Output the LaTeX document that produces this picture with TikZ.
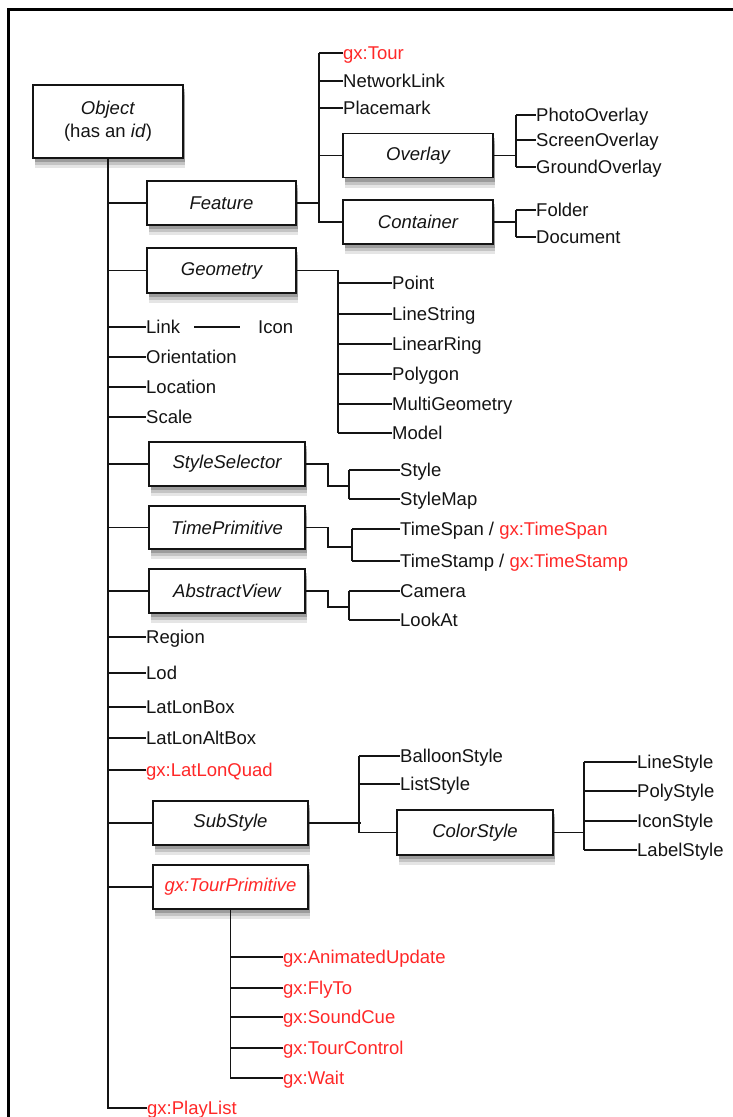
\documentclass[tikz,border=0pt]{standalone}
\usepackage{fontspec}
\setmainfont{Liberation Sans}
\usetikzlibrary{positioning}
\definecolor{gxred}{RGB}{255,40,40}
\definecolor{ink}{RGB}{20,20,20}

\begin{document}
\begin{tikzpicture}[x=1pt, y=-1pt,
  every node/.style={font=\fontsize{18.5}{23}\selectfont, text=ink},
  softshade/.style 2 args={preaction={fill=black, fill opacity=#1, draw=none,
    transform canvas={xshift=1.5pt, yshift=#2}}},
  cls/.style={draw=ink, line width=1.8pt, fill=white, minimum width=150pt,
    minimum height=44pt, inner sep=0pt, font=\fontsize{18.5}{23}\selectfont\itshape,
    softshade={0.10}{-10pt}, softshade={0.14}{-7pt}, softshade={0.20}{-4pt}},
  leaf/.style={anchor=west, inner sep=0pt, text height=13.3pt, text depth=0pt},
  gx/.style={text=gxred},
  link/.style={draw=ink, line width=1.4pt}]

  % page and frame
  \useasboundingbox (0,0) rectangle (733,1117);
  \fill[white] (0,0) rectangle (733,1117);
  \draw[line width=3pt] (8,1117) -- (8,9) -- (733,9);

  % root
  \node[cls, minimum height=73pt, align=center, font=\fontsize{18.5}{23}\selectfont]
    (object) at (108,121.5) {\textit{Object}\\(has an \textit{id})};

  % classes hanging on the trunk
  \node[cls, minimum width=149pt] (feature) at (221.5,203) {Feature};
  \node[cls, minimum width=149pt, minimum height=45pt] (geometry) at (221.5,270.5) {Geometry};
  \node[cls, minimum width=156pt] (stylesel) at (227,464) {StyleSelector};
  \node[cls, minimum width=156pt, minimum height=43pt] (timeprim) at (227,527.5) {TimePrimitive};
  \node[cls, minimum width=156pt] (absview) at (227,591) {AbstractView};
  \node[cls, minimum width=155pt] (substyle) at (230.5,823) {SubStyle};
  \node[cls, minimum width=155pt, text=gxred] (tourprim) at (230.5,887) {gx:TourPrimitive};

  % simple elements on the trunk
  \foreach \nm/\txt/\y in {link/Link/327, orient/Orientation/357, location/Location/387,
      scale/Scale/417, region/Region/637, lod/Lod/673, llbox/LatLonBox/707,
      llabox/LatLonAltBox/738}
    \node[leaf] (\nm) at (146,\y) {\txt};
  \node[leaf, gx] (llquad) at (146,770) {gx:LatLonQuad};
  \node[leaf, gx] (playlist) at (147,1108) {gx:PlayList};
  \node[leaf] (icon) at (258,327) {Icon};
  \draw[link] ([xshift=14pt]link.east) -- ([xshift=-18pt]icon.west);

  % trunk
  \draw[link] (object.south) |- (playlist.west);
  \foreach \nm in {feature, geometry, link, orient, location, scale, stylesel, timeprim,
      absview, region, lod, llbox, llabox, llquad, substyle, tourprim}
    \draw[link] (object.south |- \nm.west) -- (\nm.west);

  % Feature
  \node[leaf, gx] (tour) at (343,53) {gx:Tour};
  \node[leaf] (netlink) at (343,81) {NetworkLink};
  \node[leaf] (placemark) at (343,108) {Placemark};
  \node[cls] (overlay) at (418,155.5) {Overlay};
  \node[cls] (container) at (418,222) {Container};
  \coordinate (fbar) at (319,205);
  \draw[link] (feature.east) -- (fbar |- feature.east);
  \draw[link] (fbar |- tour.west) |- (container.west);
  \foreach \nm in {tour, netlink, placemark, overlay}
    \draw[link] (fbar |- \nm.west) -- (\nm.west);

  % Overlay and Container
  \foreach \nm/\txt/\y in {photo/PhotoOverlay/115, screen/ScreenOverlay/140,
      ground/GroundOverlay/167, folder/Folder/210, document/Document/237}
    \node[leaf] (\nm) at (536,\y) {\txt};
  \coordinate (obar) at (516,155);
  \draw[link] (overlay.east) -- (obar |- overlay.east);
  \draw[link] (obar |- photo.west) -- (obar |- ground.west);
  \draw[link] (container.east) -- (obar |- container.east);
  \draw[link] (obar |- folder.west) -- (obar |- document.west);
  \foreach \nm in {photo, screen, ground, folder, document}
    \draw[link] (obar |- \nm.west) -- (\nm.west);

  % Geometry
  \foreach \nm/\txt/\y in {point/Point/283, linestr/LineString/314, linring/LinearRing/344,
      polygon/Polygon/374, multigeo/MultiGeometry/404, model/Model/433}
    \node[leaf] (\nm) at (392,\y) {\txt};
  \coordinate (gbar) at (338,272);
  \draw[link] (geometry.east) -| (gbar |- model.west);
  \foreach \nm in {point, linestr, linring, polygon, multigeo, model}
    \draw[link] (gbar |- \nm.west) -- (\nm.west);

  % StyleSelector, TimePrimitive, AbstractView
  \node[leaf] (style) at (400,470) {Style};
  \node[leaf] (stylemap) at (400,499) {StyleMap};
  \node[leaf] (timespan) at (400,529) {TimeSpan / \textcolor{gxred}{gx:TimeSpan}};
  \node[leaf] (timestamp) at (400,561) {TimeStamp / \textcolor{gxred}{gx:TimeStamp}};
  \node[leaf] (camera) at (400,591) {Camera};
  \node[leaf] (lookat) at (400,620) {LookAt};
  \coordinate (sbar) at (349,486);
  \coordinate (tbar) at (352,547);
  \coordinate (abar) at (349,607);
  \draw[link] (stylesel.east) -| ([xshift=-21pt]sbar) -- (sbar);
  \draw[link] (timeprim.east) -| ([xshift=-24pt]tbar) -- (tbar);
  \draw[link] (absview.east) -| ([xshift=-21pt]abar) -- (abar);
  \draw[link] (sbar |- style.west) -- (sbar |- stylemap.west);
  \draw[link] (tbar |- timespan.west) -- (tbar |- timestamp.west);
  \draw[link] (abar |- camera.west) -- (abar |- lookat.west);
  \foreach \nm/\b in {style/sbar, stylemap/sbar, timespan/tbar, timestamp/tbar,
      camera/abar, lookat/abar}
    \draw[link] (\b |- \nm.west) -- (\nm.west);

  % SubStyle
  \node[leaf] (balloon) at (400,756) {BalloonStyle};
  \node[leaf] (liststyle) at (400,784) {ListStyle};
  \node[cls, minimum width=156pt, minimum height=45pt] (colorstyle) at (475,832.5) {ColorStyle};
  \coordinate (ubar) at (359,823);
  \draw[link] (substyle.east) -- ([xshift=2pt]ubar);
  \draw[link] (ubar |- balloon.west) |- (colorstyle.west);
  \foreach \nm in {balloon, liststyle}
    \draw[link] (ubar |- \nm.west) -- (\nm.west);

  % ColorStyle
  \foreach \nm/\txt/\y in {linestyle/LineStyle/762, polystyle/PolyStyle/791,
      iconstyle/IconStyle/821, labelstyle/LabelStyle/850}
    \node[leaf] (\nm) at (637,\y) {\txt};
  \coordinate (cbar) at (584,832);
  \draw[link] (colorstyle.east) -- (cbar |- colorstyle.east);
  \draw[link] (cbar |- linestyle.west) -- (cbar |- labelstyle.west);
  \foreach \nm in {linestyle, polystyle, iconstyle, labelstyle}
    \draw[link] (cbar |- \nm.west) -- (\nm.west);

  % gx:TourPrimitive
  \foreach \nm/\txt/\y in {animupd/AnimatedUpdate/957, flyto/FlyTo/988,
      soundcue/SoundCue/1017, tourctl/TourControl/1048, wait/Wait/1078}
    \node[leaf, gx] (\nm) at (283,\y) {gx:\txt};
  \draw[link] (tourprim.south) |- (wait.west);
  \foreach \nm in {animupd, flyto, soundcue, tourctl}
    \draw[link] (tourprim.south |- \nm.west) -- (\nm.west);
\end{tikzpicture}
\end{document}
